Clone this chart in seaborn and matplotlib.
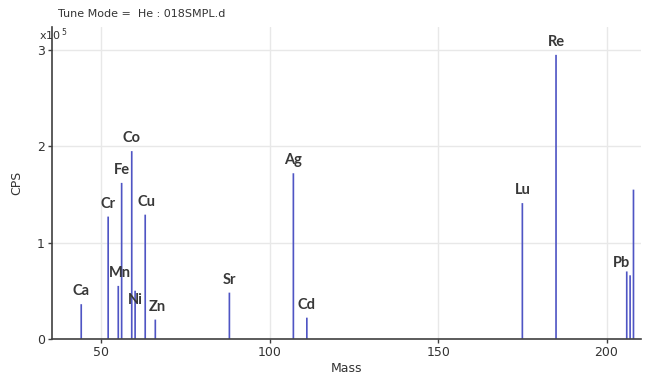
import pandas as pd
import matplotlib
matplotlib.use("Agg")
import matplotlib.pyplot as plt
import seaborn as sns

# spectrum peaks (CPS in units of 1e5)
mass = [44, 52, 55, 56, 59, 60, 63, 66, 88, 107, 111, 175, 185, 206, 207, 208]
cps = [0.36, 1.27, 0.55, 1.62, 1.95, 0.50, 1.29, 0.20, 0.48, 1.72, 0.22, 1.41, 2.95, 0.70, 0.66, 1.55]

# element labels and the mass each one sits above
label_text = ["Ca", "Cr", "Mn", "Fe", "Co", "Ni", "Cu", "Zn", "Sr", "Ag", "Cd", "Lu", "Re", "Pb"]
label_mass = [44, 52, 55.5, 56, 59, 60, 63.5, 66.5, 88, 107, 111, 175, 185, 204.3]
label_cps = [0.36, 1.27, 0.55, 1.62, 1.95, 0.27, 1.29, 0.20, 0.48, 1.72, 0.22, 1.41, 2.95, 0.66]

x_ticks = [50, 100, 150, 200]
y_ticks = [0, 1, 2, 3]

df = pd.DataFrame({"Mass": mass, "CPS": cps})

sns.set_style("whitegrid")
plt.rcParams["font.family"] = ["DejaVu Sans"]

fig = plt.figure(figsize=(6.49, 3.74), dpi=100)
ax = fig.add_axes([0.0795, 0.094, 0.908, 0.834])

sns.barplot(data=df, x="Mass", y="CPS", native_scale=True, width=0.5,
            color="#4f55c4", saturation=1, linewidth=0, ax=ax)
# no pixel snapping so every stick comes out the same width
for p in ax.patches:
    p.set_snap(False)

for t, m, c in zip(label_text, label_mass, label_cps):
    ax.text(m, c + 0.06, t, ha="center", va="bottom", fontsize=10.5,
            fontweight="bold", color="#383838", family="Lato")

ax.set_xlim(35.2, 210.2)
ax.set_ylim(0, 3.24)
ax.set_xticks(x_ticks)
ax.set_yticks(y_ticks)
ax.grid(True, color="#e8e8e8", linewidth=1)
ax.set_axisbelow(True)

for side in ["top", "right"]:
    ax.spines[side].set_visible(False)
for side in ["left", "bottom"]:
    ax.spines[side].set_color("#404040")
    ax.spines[side].set_linewidth(1.2)

ax.tick_params(axis="both", length=3, width=1, color="#404040",
               labelsize=9, labelcolor="#333333", pad=2, bottom=True, left=True)

ax.set_xlabel("Mass", fontsize=9, color="#333333", labelpad=2)
ax.set_ylabel("CPS", fontsize=9, color="#333333", labelpad=10)

fig.text(0.089, 0.955, "Tune Mode =  He : 018SMPL.d", fontsize=8, color="#333333")
fig.text(0.060, 0.895, r"x10$^{\,5}$", fontsize=8, color="#333333")

fig.savefig("out.png", dpi=100)
